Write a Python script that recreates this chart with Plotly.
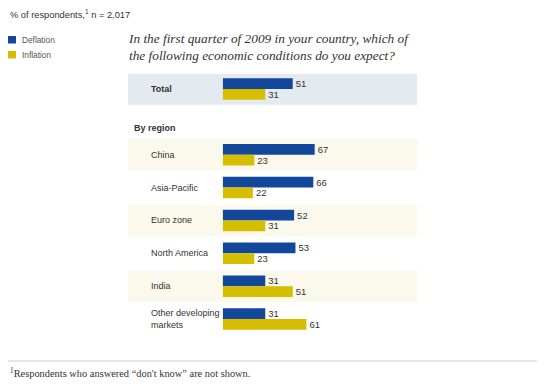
import plotly.graph_objects as go

# browser body margin of 8px is compensated by shifting all coordinates
OFF = 8
W, H = 545 - OFF, 386 - OFF

rows = ["Total", "China", "Asia-Pacific", "Euro zone", "North America", "India", "Other developing<br>markets"]
row_pos = [0, 2, 3, 4, 5, 6, 7]
deflation = [51, 67, 66, 52, 53, 31, 31]
inflation = [31, 23, 22, 31, 23, 51, 61]

BLUE = "#12479b"
YELLOW = "#d5bd00"
SANS = "Liberation Sans, Arial, sans-serif"
SERIF = "Liberation Serif, DejaVu Serif, serif"
TXT = "#333333"

def px(x):
    return (x - OFF) / W

def py(y):
    return 1 - (y - OFF) / H

# axis geometry (reference pixels)
x0_px, px_per_unit = 222.7, 1.373
xmax = 100
y_top_px, row_step = 89.0, 32.86

fig = go.Figure()
fig.add_trace(go.Bar(y=row_pos, x=deflation, orientation="h", name="Deflation",
                     marker=dict(color=BLUE, line=dict(width=0)),
                     text=[str(v) for v in deflation], textposition="outside",
                     textfont=dict(family=SANS, size=9.5, color=TXT),
                     constraintext="none", cliponaxis=False, hoverinfo="skip"))
fig.add_trace(go.Bar(y=row_pos, x=inflation, orientation="h", name="Inflation",
                     marker=dict(color=YELLOW, line=dict(width=0)),
                     text=[str(v) for v in inflation], textposition="outside",
                     textfont=dict(family=SANS, size=9.5, color=TXT),
                     constraintext="none", cliponaxis=False, hoverinfo="skip"))

shapes = []
# background panels
shapes.append(dict(type="rect", xref="paper", yref="y", x0=px(128), x1=px(417),
                   y0=-0.46, y1=0.48, fillcolor="#e4eaf0", line=dict(width=0), layer="below"))
for r in [2, 4, 6]:
    shapes.append(dict(type="rect", xref="paper", yref="y", x0=px(128), x1=px(417),
                       y0=r - 0.48, y1=r + 0.48, fillcolor="#fbf8ec", line=dict(width=0), layer="below"))
# legend squares
shapes.append(dict(type="rect", xref="paper", yref="paper", x0=px(8), x1=px(16),
                   y0=py(43.5), y1=py(36), fillcolor=BLUE, line=dict(width=0)))
shapes.append(dict(type="rect", xref="paper", yref="paper", x0=px(8), x1=px(16),
                   y0=py(58.5), y1=py(51), fillcolor=YELLOW, line=dict(width=0)))
# footnote rule
shapes.append(dict(type="line", xref="paper", yref="paper", x0=px(8), x1=px(537),
                   y0=py(361), y1=py(361), line=dict(color="#cccccc", width=1)))

ann = []
def add_text(text, x, y, size, family=SANS, color=TXT):
    ann.append(dict(text=text, x=px(x), y=py(y), xref="paper", yref="paper",
                    xanchor="left", yanchor="middle", showarrow=False,
                    font=dict(family=family, size=size, color=color), align="left"))

add_text("% of respondents,<sup>1</sup> n = 2,017", 8, 14, 9.3)
add_text("Deflation", 20, 40, 8.3, SANS, "#555555")
add_text("Inflation", 20, 55, 8.3, SANS, "#555555")
add_text("<i>In the first quarter of 2009 in your country, which of<br>the following economic conditions do you expect?</i>",
         126, 47, 13.3, SERIF, "#333333")
for name, r in zip(rows, row_pos):
    label = "<b>" + name + "</b>" if name == "Total" else name
    ann.append(dict(text=label, x=px(149), y=r, xref="paper", yref="y", xanchor="left",
                    yanchor="middle", showarrow=False, align="left",
                    font=dict(family=SANS, size=9, color=TXT)))
ann.append(dict(text="<b>By region</b>", x=px(132), y=1.19, xref="paper", yref="y", xanchor="left",
                yanchor="middle", showarrow=False, font=dict(family=SANS, size=9, color=TXT)))
add_text("<sup>1</sup>Respondents who answered “don't know” are not shown.", 8, 373, 10.4, SERIF, "#333333")

y_lo = -0.5
y_hi = 7.5
dom_top = y_top_px + y_lo * row_step
dom_bot = y_top_px + y_hi * row_step
x_end_px = x0_px + xmax * px_per_unit

fig.update_layout(
    width=W, height=H, margin=dict(l=0, r=0, t=0, b=0),
    paper_bgcolor="white", plot_bgcolor="rgba(0,0,0,0)",
    barmode="group", bargap=0.345, bargroupgap=0, showlegend=False,
    xaxis=dict(domain=[px(x0_px), px(x_end_px)], range=[0, xmax], visible=False, fixedrange=True),
    yaxis=dict(domain=[py(dom_bot), py(dom_top)], range=[y_hi, y_lo], visible=False, fixedrange=True),
    shapes=shapes, annotations=ann,
)

fig.write_html("out.html")
